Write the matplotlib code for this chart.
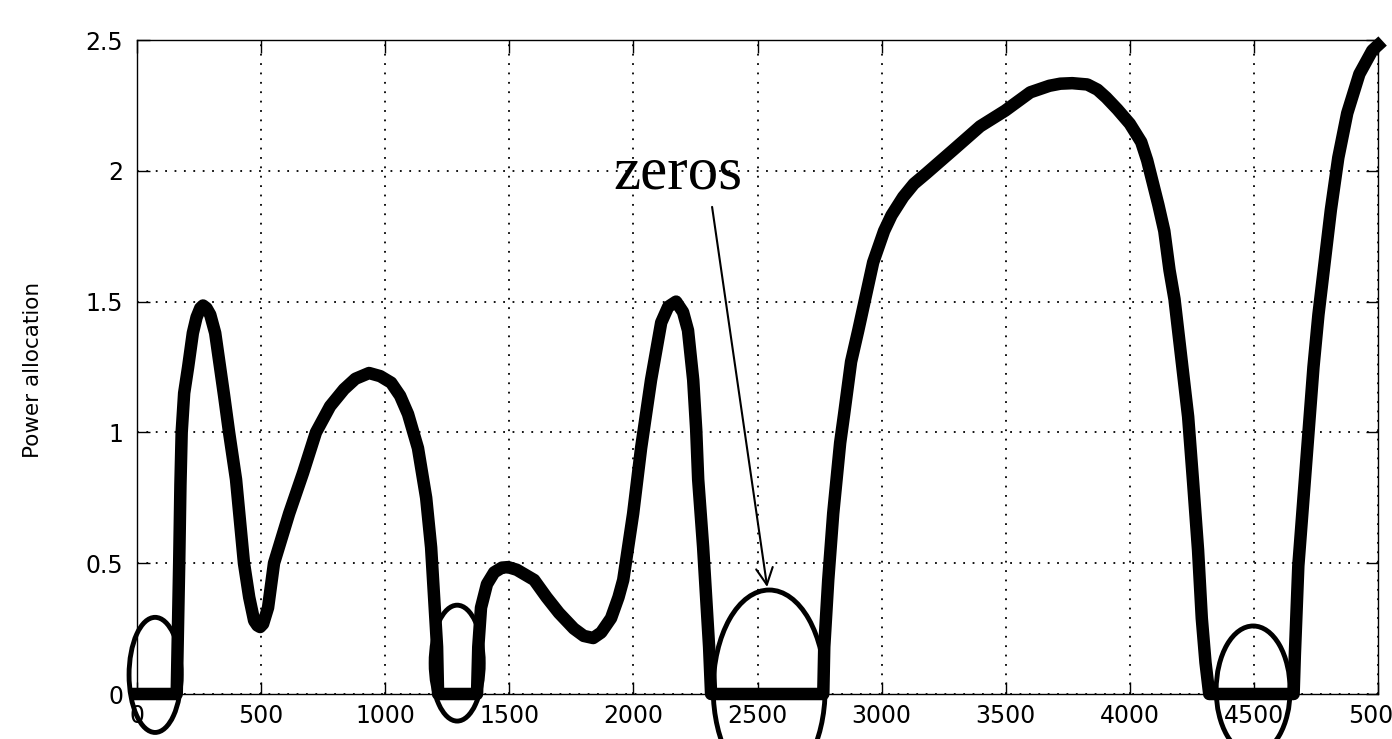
import matplotlib
matplotlib.use('Agg')
import matplotlib.pyplot as plt
from matplotlib.patches import Ellipse

# 数据
x = [0, 160, 165, 170, 175, 180, 190, 206, 225, 240, 255, 266, 280, 295, 315, 351, 371, 399,
     431, 452, 472, 485, 496, 508, 528, 552, 613, 669, 721, 778, 834, 880, 935, 980,
     1024, 1060, 1092, 1132, 1165, 1185, 1197, 1209, 1213,
     1370, 1375, 1386, 1410, 1439, 1470, 1495, 1530, 1600, 1650, 1700, 1760, 1800,
     1838, 1870, 1910, 1940, 1959, 1999, 2031, 2071, 2112, 2140, 2172, 2200, 2220,
     2241, 2253, 2261, 2281, 2293, 2305, 2313,
     2765, 2769, 2785, 2805, 2833, 2849, 2877, 2906, 2966, 3010, 3040, 3087, 3130,
     3180, 3289, 3397, 3498, 3599, 3676, 3720, 3768, 3829, 3870, 3905, 3950, 4000,
     4046, 4070, 4091, 4115, 4139, 4160, 4180, 4208, 4235, 4255, 4275, 4290, 4305, 4320,
     4660, 4665, 4679, 4699, 4720, 4740, 4760, 4785, 4810, 4840, 4876, 4925, 4977, 5000]
y = [0, 0, 0.25, 0.5, 0.8, 1.0, 1.15, 1.25, 1.38, 1.44, 1.475, 1.485, 1.475, 1.45, 1.38, 1.14, 1.0, 0.82,
     0.5, 0.37, 0.28, 0.262, 0.256, 0.268, 0.33, 0.5, 0.69, 0.845, 1.0, 1.10, 1.165, 1.205, 1.227, 1.215,
     1.19, 1.14, 1.07, 0.94, 0.75, 0.56, 0.37, 0.18, 0,
     0, 0.18, 0.33, 0.42, 0.465, 0.483, 0.485, 0.475, 0.436, 0.37, 0.31, 0.25, 0.222,
     0.214, 0.235, 0.29, 0.37, 0.436, 0.69, 0.94, 1.20, 1.42, 1.48, 1.50, 1.46, 1.39,
     1.20, 1.01, 0.82, 0.56, 0.37, 0.18, 0,
     0, 0.18, 0.436, 0.69, 0.96, 1.07, 1.27, 1.39, 1.65, 1.77, 1.83, 1.90, 1.95,
     1.99, 2.08, 2.17, 2.23, 2.30, 2.325, 2.333, 2.335, 2.33, 2.31, 2.28, 2.235, 2.18,
     2.11, 2.04, 1.96, 1.87, 1.77, 1.62, 1.51, 1.28, 1.06, 0.81, 0.55, 0.29, 0.12, 0,
     0, 0.15, 0.49, 0.74, 1.0, 1.25, 1.45, 1.65, 1.85, 2.05, 2.22, 2.37, 2.46, 2.48]

xticks = [0, 500, 1000, 1500, 2000, 2500, 3000, 3500, 4000, 4500, 5000]
yticks = [0, 0.5, 1, 1.5, 2, 2.5]
ytick_labels = ['0', '0.5', '1', '1.5', '2', '2.5']

# 椭圆标注：中心x, 中心y, 宽, 高
ell_cx = [73, 1290, 2547, 4497]
ell_cy = [0.073, 0.118, 0.019, 0.015]
ell_w = [210, 210, 451, 298]
ell_h = [0.44, 0.443, 0.757, 0.49]

fig = plt.figure(figsize=(13.92, 7.39), dpi=100)
ax = fig.add_axes([137 / 1392, 45 / 739, 1241 / 1392, 654 / 739])

ax.plot(x, y, color='black', lw=9, solid_joinstyle='round', clip_on=False, zorder=3)

for cx, cy, w, h in zip(ell_cx, ell_cy, ell_w, ell_h):
    e = Ellipse((cx, cy), w, h, fill=False, edgecolor='black', lw=3.5,
                clip_on=False, zorder=4)
    ax.add_patch(e)

ax.annotate('', xy=(2539, 0.409), xytext=(2317, 1.862),
            arrowprops=dict(arrowstyle='->', color='black', lw=1.5,
                            mutation_scale=30, shrinkA=0, shrinkB=0))
ax.text(1918, 1.934, 'zeros', fontsize=44, family='Liberation Serif',
        ha='left', va='baseline')

ax.set_xlim(0, 5000)
ax.set_ylim(0, 2.5)
ax.set_xticks(xticks)
ax.set_yticks(yticks)
ax.set_yticklabels(ytick_labels)
ax.tick_params(direction='in', length=9, width=1, top=True, right=True,
               labelsize=17)
ax.tick_params(axis='x', pad=7)
ax.tick_params(axis='y', pad=10)
for lab in ax.get_xticklabels() + ax.get_yticklabels():
    lab.set_family('DejaVu Sans')
ax.grid(True, color='black', lw=1.3, linestyle=(0, (1, 4.2)))
for s in ax.spines.values():
    s.set_linewidth(1.0)
    s.set_zorder(5)

fig.text(33 / 1392, 1 - 370 / 739, 'Power allocation', rotation=90,
         ha='center', va='center', fontsize=15.5, family='DejaVu Sans')

plt.savefig('out.png', dpi=100)
